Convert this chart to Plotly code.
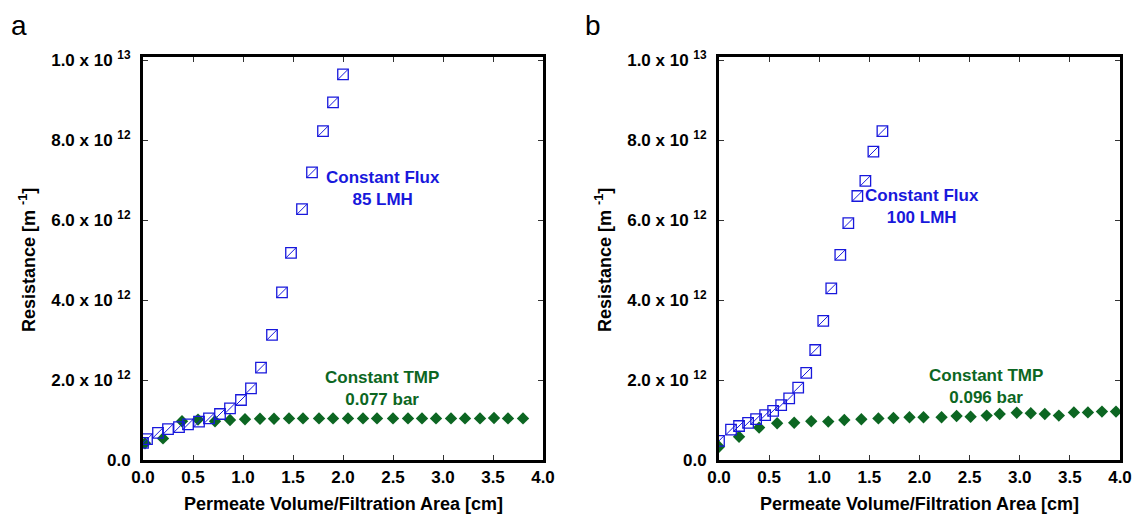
import plotly.graph_objects as go

# ---------------- data (resistance in units of 1e12 m^-1) ----------------
left_flux_x = [0.00, 0.04, 0.15, 0.25, 0.36, 0.45, 0.56, 0.66, 0.77, 0.87, 0.98,
               1.08, 1.18, 1.29, 1.39, 1.48, 1.59, 1.69, 1.80, 1.90, 2.00]
left_flux_y = [0.43, 0.52, 0.68, 0.77, 0.82, 0.89, 0.96, 1.04, 1.15, 1.29, 1.50,
               1.79, 2.31, 3.13, 4.19, 5.18, 6.27, 7.19, 8.22, 8.94, 9.64]

left_tmp_x = [0.02, 0.20, 0.39, 0.55, 0.72, 0.87, 1.02, 1.17, 1.31, 1.46, 1.60, 1.76, 1.90,
              2.05, 2.20, 2.34, 2.50, 2.65, 2.79, 2.93, 3.08, 3.22, 3.37, 3.51, 3.65, 3.80]
left_tmp_y = [0.42, 0.54, 0.97, 1.01, 0.97, 1.00, 1.02, 1.03, 1.03, 1.04, 1.04, 1.04, 1.04,
              1.04, 1.04, 1.04, 1.04, 1.04, 1.04, 1.04, 1.04, 1.04, 1.04, 1.05, 1.04, 1.04]

right_flux_x = [0.00, 0.12, 0.20, 0.29, 0.37, 0.46, 0.54, 0.62, 0.70, 0.79,
                0.87, 0.96, 1.04, 1.12, 1.21, 1.29, 1.38, 1.46, 1.54, 1.63]
right_flux_y = [0.48, 0.76, 0.85, 0.93, 1.02, 1.12, 1.23, 1.37, 1.54, 1.81,
                2.18, 2.75, 3.48, 4.29, 5.13, 5.92, 6.60, 6.98, 7.71, 8.22]

right_tmp_x = [0.00, 0.20, 0.40, 0.58, 0.75, 0.92, 1.09, 1.25, 1.42, 1.59, 1.74, 1.90, 2.04,
               2.22, 2.37, 2.51, 2.67, 2.80, 2.97, 3.11, 3.25, 3.39, 3.54, 3.68, 3.82, 3.96]
right_tmp_y = [0.33, 0.58, 0.81, 0.92, 0.93, 0.97, 0.96, 1.00, 1.02, 1.04, 1.05, 1.07, 1.07,
               1.07, 1.10, 1.08, 1.11, 1.15, 1.18, 1.17, 1.15, 1.11, 1.19, 1.19, 1.21, 1.21]

scale = 1e12
y_tickvals = [0, 2e12, 4e12, 6e12, 8e12, 1e13]
y_ticktext = ["<b>0.0</b>", "<b>2.0 x 10 <sup>12</sup></b>", "<b>4.0 x 10 <sup>12</sup></b>",
              "<b>6.0 x 10 <sup>12</sup></b>", "<b>8.0 x 10 <sup>12</sup></b>",
              "<b>1.0 x 10 <sup>13</sup></b>"]
x_tickvals = [0, 0.5, 1.0, 1.5, 2.0, 2.5, 3.0, 3.5, 4.0]
x_ticktext = ["<b>0.0</b>", "<b>0.5</b>", "<b>1.0</b>", "<b>1.5</b>", "<b>2.0</b>",
              "<b>2.5</b>", "<b>3.0</b>", "<b>3.5</b>", "<b>4.0</b>"]

BLUE = "#1818dc"
GREEN = "#0c6622"
FONT = "Liberation Sans, Arial, sans-serif"

fig = go.Figure()

def add_panel(xa, ya, fx, fy, tx, ty):
    fig.add_trace(go.Scatter(x=tx, y=[v * scale for v in ty], mode="markers",
                             xaxis=xa, yaxis=ya, showlegend=False,
                             marker=dict(symbol="diamond", size=9.5, color=GREEN,
                                         line=dict(width=0))))
    fig.add_trace(go.Scatter(x=fx, y=[v * scale for v in fy], mode="markers",
                             xaxis=xa, yaxis=ya, showlegend=False,
                             marker=dict(symbol="square-open", size=10.5, color=BLUE,
                                         line=dict(width=1.3, color=BLUE))))
    fig.add_trace(go.Scatter(x=fx, y=[v * scale for v in fy], mode="markers",
                             xaxis=xa, yaxis=ya, showlegend=False,
                             marker=dict(symbol="line-ne", size=10.5, color=BLUE,
                                         line=dict(width=1, color=BLUE))))

add_panel("x", "y", left_flux_x, left_flux_y, left_tmp_x, left_tmp_y)
add_panel("x2", "y2", right_flux_x, right_flux_y, right_tmp_x, right_tmp_y)

W, H = 1133, 515
ydom = [1 - 460 / H, 1 - 57 / H]
yrange = [0, 1.0075e13]

axis_common = dict(showline=True, linewidth=3, linecolor="black", mirror="ticks",
                   ticks="inside", ticklen=5, tickwidth=1, tickcolor="#333",
                   showgrid=False, zeroline=False, automargin=False,
                   tickfont=dict(family=FONT, size=17, color="black"))

fig.update_layout(
    width=W, height=H,
    margin=dict(l=0, r=0, t=0, b=0),
    paper_bgcolor="white", plot_bgcolor="white",
    xaxis=dict(domain=[143 / W, 543 / W], range=[0, 4], tickvals=x_tickvals,
               ticktext=x_ticktext, anchor="y", ticklabelstandoff=0, **axis_common),
    yaxis=dict(domain=ydom, range=yrange, tickvals=y_tickvals, ticktext=y_ticktext,
               anchor="x", ticklabelstandoff=6, **axis_common),
    xaxis2=dict(domain=[719 / W, 1120 / W], range=[0, 4], tickvals=x_tickvals,
                ticktext=x_ticktext, anchor="y2", ticklabelstandoff=0, **axis_common),
    yaxis2=dict(domain=ydom, range=yrange, tickvals=y_tickvals, ticktext=y_ticktext,
                anchor="x2", ticklabelstandoff=6, **axis_common),
)

lab = dict(family=FONT, size=17)
ann = []
# series labels
ann.append(dict(x=2.40, y=6.78e12, xref="x", yref="y", showarrow=False,
                xanchor="center", yanchor="middle",
                text="<b>Constant Flux<br>85 LMH</b>", font=dict(color=BLUE, **lab)))
ann.append(dict(x=2.39, y=1.8e12, xref="x", yref="y", showarrow=False,
                xanchor="center", yanchor="middle",
                text="<b>Constant TMP<br>0.077 bar</b>", font=dict(color=GREEN, **lab)))
ann.append(dict(x=2.02, y=6.35e12, xref="x2", yref="y2", showarrow=False,
                xanchor="center", yanchor="middle",
                text="<b>Constant Flux<br>100 LMH</b>", font=dict(color=BLUE, **lab)))
ann.append(dict(x=2.66, y=1.83e12, xref="x2", yref="y2", showarrow=False,
                xanchor="center", yanchor="middle",
                text="<b>Constant TMP<br>0.096 bar</b>", font=dict(color=GREEN, **lab)))
# axis titles
for xc in (343, 919):
    ann.append(dict(x=xc / W, y=1 - 504 / H, xref="paper", yref="paper", showarrow=False,
                    xanchor="center", yanchor="middle",
                    text="<b>Permeate Volume/Filtration Area [cm]</b>",
                    font=dict(family=FONT, size=18, color="black")))
for xc in (27, 603):
    ann.append(dict(x=xc / W, y=1 - 260 / H, xref="paper", yref="paper", showarrow=False,
                    xanchor="center", yanchor="middle",
                    textangle=-90, text="<b>Resistance [m <sup>-1</sup>]</b>",
                    font=dict(family=FONT, size=18, color="black")))
# panel letters
for xc, letter in ((19, "a"), (593, "b")):
    ann.append(dict(x=xc / W, y=1 - 26 / H, xref="paper", yref="paper", showarrow=False,
                    xanchor="center", yanchor="middle",
                    text=letter, font=dict(family=FONT, size=28, color="black")))
fig.update_layout(annotations=ann)

fig.write_html("out.html")
